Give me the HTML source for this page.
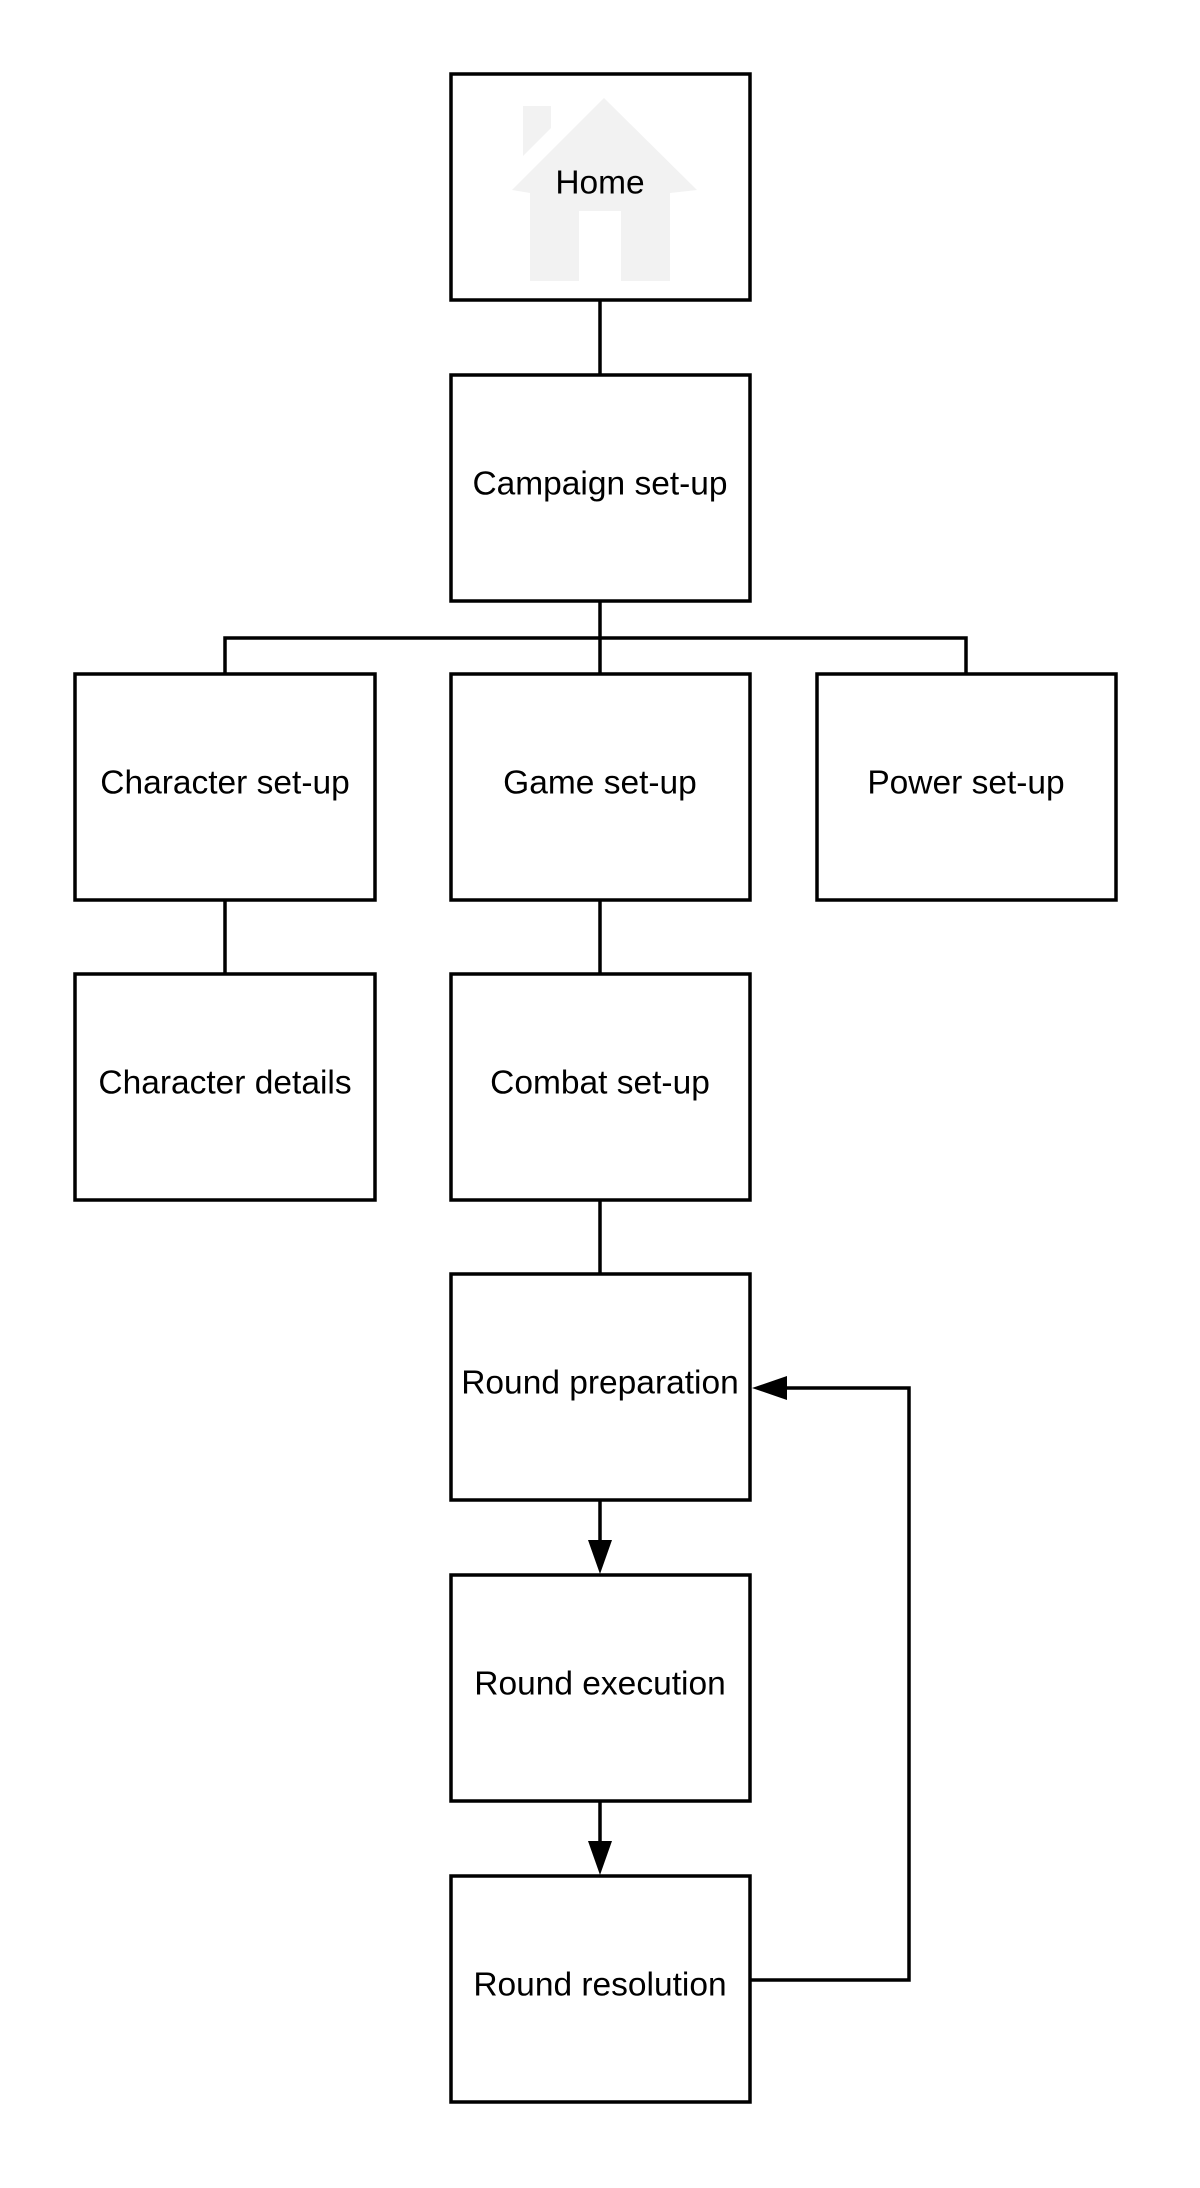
<!DOCTYPE html>
<html><head><meta charset="utf-8"><style>html,body{margin:0;padding:0;background:#fff}svg{display:block}</style></head>
<body>
<svg width="1200" height="2188" viewBox="0 0 1200 2188" xmlns="http://www.w3.org/2000/svg">
<g fill="#f2f2f2">
<polygon points="604,98 512,190 530,193 530,281 579,281 579,211 621,211 621,281 670,281 670,193 697,190"/>
<polygon points="523,106 551,106 551,128 523,156"/>
</g>
<g fill="none" stroke="#000" stroke-width="3.5">
<line x1="600" y1="300" x2="600" y2="375"/>
<line x1="600" y1="600" x2="600" y2="674"/>
<polyline points="225,674 225,638 966,638 966,674"/>
<line x1="225" y1="900" x2="225" y2="974"/>
<line x1="600" y1="900" x2="600" y2="974"/>
<line x1="600" y1="1200" x2="600" y2="1274"/>
<line x1="600" y1="1500" x2="600" y2="1545"/>
<line x1="600" y1="1801" x2="600" y2="1846"/>
<polyline points="751,1980 909,1980 909,1388 785,1388"/>
<rect x="451" y="74" width="299" height="226"/>
<rect x="451" y="375" width="299" height="226"/>
<rect x="75" y="674" width="300" height="226"/>
<rect x="451" y="674" width="299" height="226"/>
<rect x="817" y="674" width="299" height="226"/>
<rect x="75" y="974" width="300" height="226"/>
<rect x="451" y="974" width="299" height="226"/>
<rect x="451" y="1274" width="299" height="226"/>
<rect x="451" y="1575" width="299" height="226"/>
<rect x="451" y="1876" width="299" height="226"/>
</g>
<g fill="#000">
<polygon points="588,1540 612,1540 600,1574"/>
<polygon points="588,1841 612,1841 600,1875"/>
<polygon points="787,1376 787,1400 752,1388"/>
</g>
<g font-family="'Liberation Sans',sans-serif" font-size="33.5" text-anchor="middle" dominant-baseline="central" fill="#000">
<text x="600" y="183">Home</text>
<text x="600" y="484">Campaign set-up</text>
<text x="225" y="783">Character set-up</text>
<text x="600" y="783">Game set-up</text>
<text x="966" y="783">Power set-up</text>
<text x="225" y="1083">Character details</text>
<text x="600" y="1083">Combat set-up</text>
<text x="600" y="1383">Round preparation</text>
<text x="600" y="1684">Round execution</text>
<text x="600" y="1985">Round resolution</text>
</g>
</svg>
</body></html>
